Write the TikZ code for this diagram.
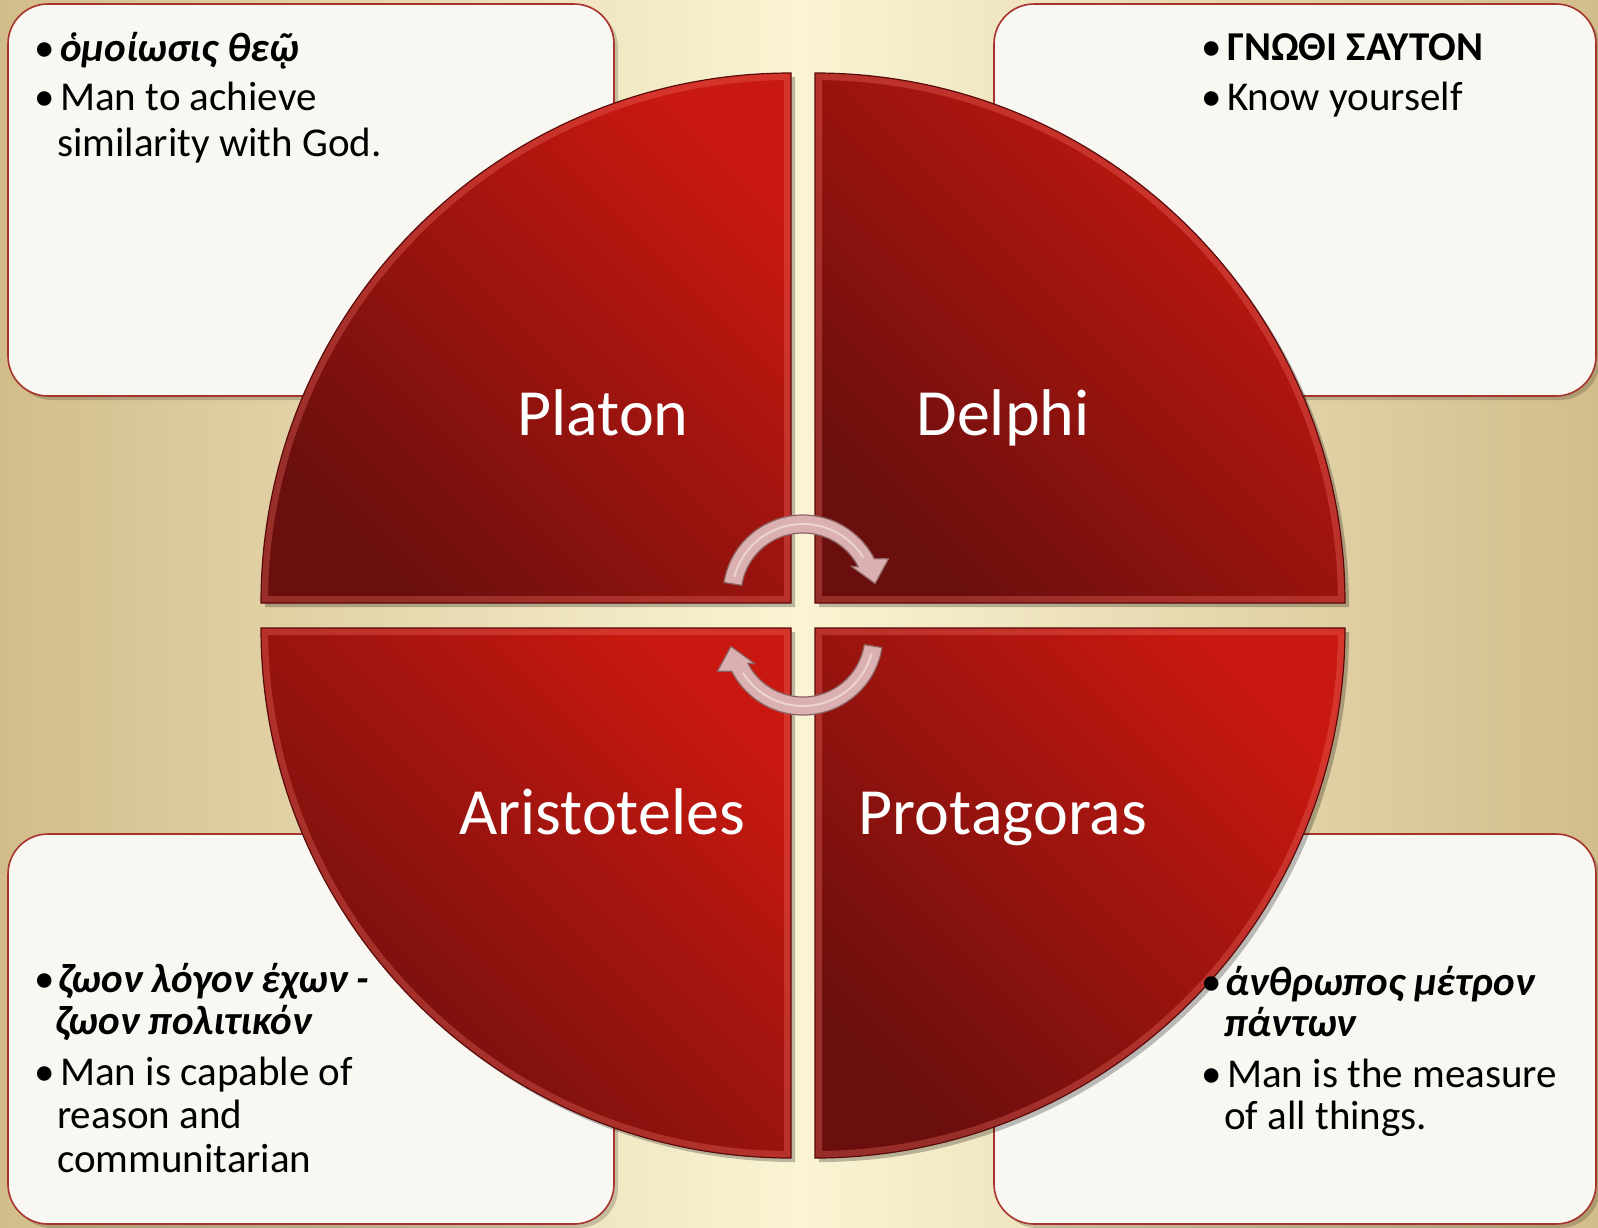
\documentclass[tikz,border=0pt]{standalone}
\usepackage{fontspec}
\setmainfont{Carlito}
\definecolor{bgtan}{HTML}{D2BD8A}
\definecolor{bgcream}{HTML}{FAF4D4}
\definecolor{boxfill}{HTML}{F8F7F2}
\definecolor{boxedge}{HTML}{A8322C}
\definecolor{redbright}{HTML}{C8180F}
\definecolor{reddark}{HTML}{6A0F0E}
\definecolor{bevel}{HTML}{F06A60}
\definecolor{quadedge}{HTML}{5A0A0A}
\definecolor{arrowpink}{HTML}{DBB0B0}
\definecolor{arrowedge}{HTML}{8C6464}
\tikzset{
  txtbox/.style={draw=boxedge, line width=1.6pt, fill=boxfill, rounded corners=40pt},
  boxshadow/.style={fill=black, opacity=0.18, rounded corners=40pt},
  quadshade/.style={top color=redbright, bottom color=reddark, shading angle=-45},
  quadshadow/.style={fill=black, opacity=0.25},
  quadbevel/.style={draw=bevel, line width=14pt, opacity=0.35},
  quadline/.style={draw=quadedge, line width=1.2pt},
  qlabel/.style={text=white, font=\fontsize{66}{70}\selectfont, anchor=base, inner sep=0pt},
  bul/.style={font=\fontsize{41}{44}\selectfont, anchor=base west, inner sep=0pt},
  btxt/.style={font=\fontsize{41}{44}\selectfont, anchor=base west, inner sep=0pt},
  gtxt/.style={font=\fontsize{41}{44}\selectfont\bfseries\itshape, anchor=base west, inner sep=0pt},
  arrowshape/.style={fill=arrowpink, draw=arrowedge, line width=1.2pt, line join=round},
  arrowhi/.style={draw=white, opacity=0.45, line width=2pt},
}
\begin{document}
\begin{tikzpicture}[x=1pt,y=-1pt]
\useasboundingbox (0,0) rectangle (1598,1227);
\shade[left color=bgtan, right color=bgtan, middle color=bgcream] (0,0) rectangle (1598,1227);

% text boxes
\path[boxshadow] (12,8) rectangle (618,400);
\path[boxshadow] (998,8) rectangle (1600,400);
\path[boxshadow] (12,838) rectangle (618,1228);
\path[boxshadow] (998,838) rectangle (1600,1228);
\path[txtbox] (8,4) rectangle (614,396);
\path[txtbox] (994,4) rectangle (1596,396);
\path[txtbox] (8,834) rectangle (614,1224);
\path[txtbox] (994,834) rectangle (1596,1224);

% quadrant shadows
\path[quadshadow] (795,607) -- (265,607) arc[start angle=180,end angle=270,radius=530] -- cycle;
\path[quadshadow] (819,607) -- (819,77) arc[start angle=270,end angle=360,radius=530] -- cycle;
\path[quadshadow] (795,632) -- (795,1162) arc[start angle=90,end angle=180,radius=530] -- cycle;
\path[quadshadow] (819,632) -- (1349,632) arc[start angle=0,end angle=90,radius=530] -- cycle;

% quadrants
\def\qTL{(791,603) -- (261,603) arc[start angle=180,end angle=270,radius=530] -- cycle}
\def\qTR{(815,603) -- (815,73) arc[start angle=270,end angle=360,radius=530] -- cycle}
\def\qBL{(791,628) -- (791,1158) arc[start angle=90,end angle=180,radius=530] -- cycle}
\def\qBR{(815,628) -- (1345,628) arc[start angle=0,end angle=90,radius=530] -- cycle}
\foreach \q in {\qTL,\qTR,\qBL,\qBR}{
  \shade[quadshade] \q;
  \begin{scope}
    \clip \q;
    \path[quadbevel] \q;
  \end{scope}
  \path[quadline] \q;
}

% labels
\node[qlabel] (platon) at (603,435) {Platon};
\node[qlabel] (delphi) at (1003,435) {Delphi};
\node[qlabel] (aristoteles) at (602,834) {Aristoteles};
\node[qlabel] (protagoras) at (1003,834) {Protagoras};

% circular arrows
\coordinate (c1) at (803,595);
\coordinate (c2) at (803,635);
\path[arrowshape] ([shift={(189:80)}]c1) arc[start angle=189,end angle=333,radius=80]
  -- ([shift={(337:93)}]c1) -- ([shift={(351:73)}]c1) -- ([shift={(329:56)}]c1)
  -- ([shift={(333:62)}]c1) arc[start angle=333,end angle=189,radius=62] -- cycle;
\path[arrowhi] ([shift={(195:71)}]c1) arc[start angle=195,end angle=328,radius=71];
\path[arrowshape] ([shift={(9:80)}]c2) arc[start angle=9,end angle=153,radius=80]
  -- ([shift={(157:93)}]c2) -- ([shift={(171:73)}]c2) -- ([shift={(149:56)}]c2)
  -- ([shift={(153:62)}]c2) arc[start angle=153,end angle=9,radius=62] -- cycle;
\path[arrowhi] ([shift={(15:71)}]c2) arc[start angle=15,end angle=148,radius=71];

% top-left text
\node[bul] (tlb1) at (34,61) {•};
\node[gtxt] (tl1) at (60,61) {ὁμοίωσις θεῷ};
\node[bul] (tlb2) at (34,110) {•};
\node[btxt] (tl2) at (60,110) {Man to achieve};
\node[btxt] (tl3) at (57,156) {similarity with God.};

% top-right text
\node[bul] (trb1) at (1201,60) {•};
\node[btxt, font=\fontsize{41}{44}\selectfont\bfseries] (tr1) at (1227,60) {ΓΝΩΘΙ ΣΑΥΤΟΝ};
\node[bul] (trb2) at (1201,110) {•};
\node[btxt] (tr2) at (1227,110) {Know yourself};

% bottom-left text
\node[bul] (blb1) at (34,992) {•};
\node[gtxt] (bl1) at (58,992) {ζωον λόγον έχων -};
\node[gtxt] (bl2) at (55,1034) {ζωον πολιτικόν};
\node[bul] (blb2) at (34,1085) {•};
\node[btxt] (bl3) at (60,1085) {Man is capable of};
\node[btxt] (bl4) at (57,1128) {reason and};
\node[btxt] (bl5) at (57,1172) {communitarian};

% bottom-right text
\node[bul] (brb1) at (1201,995) {•};
\node[gtxt] (br1) at (1225,995) {άνθρωπος μέτρον};
\node[gtxt] (br2) at (1224,1036) {πάντων};
\node[bul] (brb2) at (1201,1087) {•};
\node[btxt] (br3) at (1227,1087) {Man is the measure};
\node[btxt] (br4) at (1224,1129) {of all things.};
\end{tikzpicture}
\end{document}
